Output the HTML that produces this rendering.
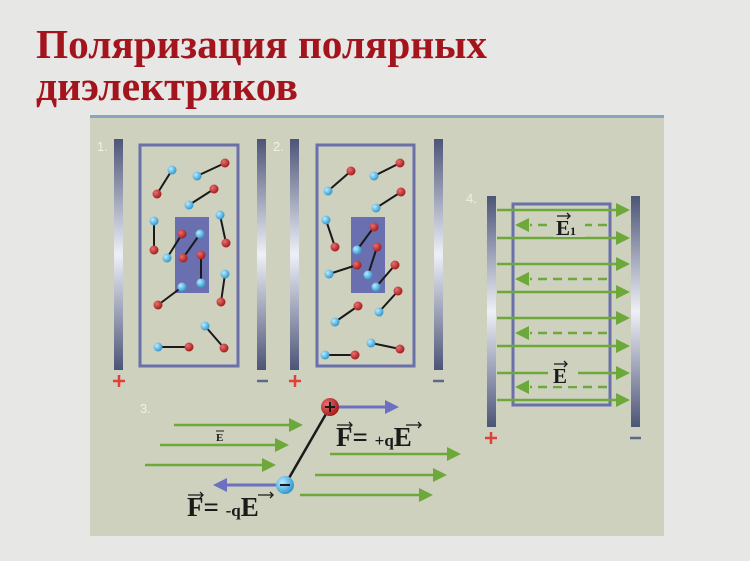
<!DOCTYPE html>
<html><head><meta charset="utf-8"><style>
html,body{margin:0;padding:0;width:750px;height:561px;overflow:hidden;background:#e7e7e5;}
svg{display:block}
</style></head><body>
<svg width="750" height="561" viewBox="0 0 750 561" xmlns="http://www.w3.org/2000/svg">
<defs>
<linearGradient id="pl" x1="0" y1="0" x2="0" y2="1">
<stop offset="0" stop-color="#4c5478"/><stop offset="0.5" stop-color="#eef0f6"/><stop offset="1" stop-color="#4c5478"/>
</linearGradient>
<radialGradient id="rb" cx="0.35" cy="0.35" r="0.7"><stop offset="0" stop-color="#e87070"/><stop offset="1" stop-color="#a01818"/></radialGradient>
<radialGradient id="bb" cx="0.35" cy="0.35" r="0.7"><stop offset="0" stop-color="#b8ecff"/><stop offset="1" stop-color="#2a94cc"/></radialGradient>
</defs>
<text x="36" y="58" font-family="Liberation Serif, serif" font-weight="bold" font-size="41" fill="#a3141c" textLength="451" lengthAdjust="spacingAndGlyphs">Поляризация полярных</text>
<text x="36" y="100" font-family="Liberation Serif, serif" font-weight="bold" font-size="41" fill="#a3141c" textLength="262" lengthAdjust="spacingAndGlyphs">диэлектриков</text>
<rect x="90" y="116" width="574" height="420" fill="#cfd1bf"/>
<rect x="90" y="115" width="574" height="3" fill="#8aa6bc"/>
<g font-family="Liberation Sans, sans-serif" font-size="13" fill="#eef0e6">
<text x="97" y="151">1.</text><text x="273" y="151">2.</text><text x="140" y="413">3.</text><text x="466" y="203">4.</text>
</g>
<g fill="url(#pl)">
<rect x="114" y="139" width="9" height="231"/><rect x="257" y="139" width="9" height="231"/>
<rect x="290" y="139" width="9" height="231"/><rect x="434" y="139" width="9" height="231"/>
<rect x="487" y="196" width="9" height="231"/><rect x="631" y="196" width="9" height="231"/>
</g>
<g stroke="#e0403a" stroke-width="2.5"><path d="M113,381h12M119,375v12M289,381h12M295,375v12M485,438h12M491,432v12"/></g>
<g stroke="#5b6a8a" stroke-width="2.5"><path d="M257,381h11M433,381h11M630,438h11"/></g>
<g fill="none" stroke="#6a70a8" stroke-width="3"><rect x="140" y="145" width="98" height="221"/><rect x="317" y="145" width="97" height="221"/><rect x="513" y="204" width="97" height="201"/></g>
<rect x="175" y="217" width="34" height="76" fill="#6a6fb0"/>
<rect x="351" y="217" width="34" height="76" fill="#6a6fb0"/>
<g stroke="#1a1a1a" stroke-width="2">
<path d="M172,170L157,194M197,176L225,163M189,205L214,189M154,221L154,250M220,215L226,243M182,234L167,258M200,234L183,258M201,255L201,283M182,287L158,305M225,274L221,302M205,326L224,348M158,347L189,347"/>
<path d="M351,171L328,191M374,176L400,163M401,192L376,208M326,220L335,247M374,227L357,250M377,247L368,275M357,265L329,274M395,265L376,287M398,291L379,312M358,306L335,322M325,355L355,355M371,343L400,349"/>
</g>
<g fill="url(#bb)">
<circle cx="172" cy="170" r="4.5"/><circle cx="197" cy="176" r="4.5"/><circle cx="189" cy="205" r="4.5"/><circle cx="154" cy="221" r="4.5"/><circle cx="220" cy="215" r="4.5"/><circle cx="167" cy="258" r="4.5"/><circle cx="200" cy="234" r="4.5"/><circle cx="201" cy="283" r="4.5"/><circle cx="182" cy="287" r="4.5"/><circle cx="225" cy="274" r="4.5"/><circle cx="205" cy="326" r="4.5"/><circle cx="158" cy="347" r="4.5"/>
<circle cx="328" cy="191" r="4.5"/><circle cx="374" cy="176" r="4.5"/><circle cx="376" cy="208" r="4.5"/><circle cx="326" cy="220" r="4.5"/><circle cx="357" cy="250" r="4.5"/><circle cx="368" cy="275" r="4.5"/><circle cx="329" cy="274" r="4.5"/><circle cx="376" cy="287" r="4.5"/><circle cx="379" cy="312" r="4.5"/><circle cx="335" cy="322" r="4.5"/><circle cx="325" cy="355" r="4.5"/><circle cx="371" cy="343" r="4.5"/>
</g>
<g fill="url(#rb)">
<circle cx="157" cy="194" r="4.5"/><circle cx="225" cy="163" r="4.5"/><circle cx="214" cy="189" r="4.5"/><circle cx="154" cy="250" r="4.5"/><circle cx="226" cy="243" r="4.5"/><circle cx="182" cy="234" r="4.5"/><circle cx="183" cy="258" r="4.5"/><circle cx="201" cy="255" r="4.5"/><circle cx="158" cy="305" r="4.5"/><circle cx="221" cy="302" r="4.5"/><circle cx="224" cy="348" r="4.5"/><circle cx="189" cy="347" r="4.5"/>
<circle cx="351" cy="171" r="4.5"/><circle cx="400" cy="163" r="4.5"/><circle cx="401" cy="192" r="4.5"/><circle cx="335" cy="247" r="4.5"/><circle cx="374" cy="227" r="4.5"/><circle cx="377" cy="247" r="4.5"/><circle cx="357" cy="265" r="4.5"/><circle cx="395" cy="265" r="4.5"/><circle cx="398" cy="291" r="4.5"/><circle cx="358" cy="306" r="4.5"/><circle cx="355" cy="355" r="4.5"/><circle cx="400" cy="349" r="4.5"/>
</g>
<!-- panel 4 -->
<g stroke="#6ca83a" stroke-width="2.5">
<path d="M497,210H618M497,238H618M497,264H618M497,292H618M497,318H618M497,346H618M497,373H618M497,400H618"/>
</g>
<g fill="#6ca83a">
<path d="M630,210l-14,-7v14zM630,238l-14,-7v14zM630,264l-14,-7v14zM630,292l-14,-7v14zM630,318l-14,-7v14zM630,346l-14,-7v14zM630,373l-14,-7v14zM630,400l-14,-7v14z"/>
</g>
<g stroke="#6ca83a" stroke-width="2.5" stroke-dasharray="9,6">
<path d="M607,225H530M607,279H530M607,333H530M607,387H530"/>
</g>
<g fill="#6ca83a"><path d="M515,225l14,-7v14zM515,279l14,-7v14zM515,333l14,-7v14zM515,387l14,-7v14z"/></g>
<rect x="553" y="215" width="32" height="22" fill="#cfd1bf"/>
<rect x="548" y="362" width="30" height="24" fill="#cfd1bf"/>
<g font-family="Liberation Serif, serif" font-weight="bold" fill="#1a1a1a">
<text x="556" y="235" font-size="21">E<tspan font-size="12">1</tspan></text>
<path d="M557,216h13M567,213l3,3l-3,3" stroke="#1a1a1a" stroke-width="1.3" fill="none"/>
<text x="553" y="383" font-size="21">E</text>
<path d="M554,364h13M564,361l3,3l-3,3" stroke="#1a1a1a" stroke-width="1.3" fill="none"/>
</g>
<!-- panel 3 -->
<g stroke="#6ca83a" stroke-width="2.5">
<path d="M174,425H290M160,445H276M145,465H263M330,454H448M315,475H434M300,495H420"/>
</g>
<g fill="#6ca83a">
<path d="M303,425l-14,-7v14zM289,445l-14,-7v14zM276,465l-14,-7v14zM461,454l-14,-7v14zM447,475l-14,-7v14zM433,495l-14,-7v14z"/>
</g>
<line x1="330" y1="407" x2="285" y2="485" stroke="#1a1a1a" stroke-width="2.5"/>
<g stroke="#6d6fc0" stroke-width="3"><path d="M338,407H386M277,485H226"/></g>
<g fill="#6d6fc0"><path d="M399,407l-14,-7v14zM213,485l14,-7v14z"/></g>
<circle cx="330" cy="407" r="9" fill="url(#rb)"/>
<path d="M325,407h10M330,402v10" stroke="#1a1a1a" stroke-width="2"/>
<circle cx="285" cy="485" r="9" fill="url(#bb)"/>
<path d="M280,485h10" stroke="#1a1a1a" stroke-width="2"/>
<g font-family="Liberation Serif, serif" font-weight="bold" fill="#1a1a1a">
<text x="216" y="441" font-size="11">E</text>
<path d="M216,431h8" stroke="#1a1a1a" stroke-width="1"/>
<text x="336" y="446" font-size="27">F= <tspan font-size="17">+q</tspan>E</text>
<path d="M337,425h15M349,422l3,3l-3,3M406,425h15M418,422l3,3l-3,3" stroke="#1a1a1a" stroke-width="1.3" fill="none"/>
<text x="187" y="516" font-size="27">F= <tspan font-size="17">-q</tspan>E</text>
<path d="M188,495h15M200,492l3,3l-3,3M258,495h15M270,492l3,3l-3,3" stroke="#1a1a1a" stroke-width="1.3" fill="none"/>
</g>
</svg>
</body></html>
